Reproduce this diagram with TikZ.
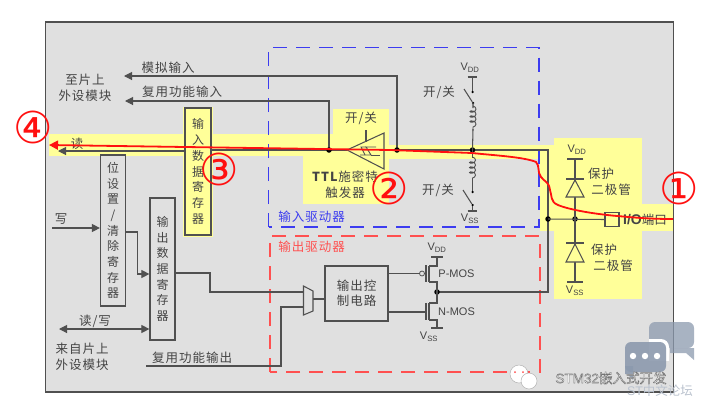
\documentclass[tikz,border=0pt]{standalone}
\usepackage{fontspec}
\setmainfont{Liberation Sans}
\newfontfamily\cjk[LetterSpace=8]{Noto Sans CJK SC}
\newfontfamily\cjkvert{Noto Sans CJK SC}
\newfontfamily\circlefont{DejaVu Sans}
\usetikzlibrary{arrows.meta,decorations.pathmorphing,calc}
\definecolor{panel}{HTML}{E0E0E0}
\definecolor{hilite}{HTML}{FFFF99}
\definecolor{ink}{HTML}{505050}
\definecolor{txt}{HTML}{444444}
\definecolor{dblue}{HTML}{3C3CF0}
\definecolor{dred}{HTML}{FF5050}
\definecolor{redmark}{HTML}{FF1010}
\definecolor{wmk}{HTML}{8C9AAE}
\tikzset{
  wire/.style={draw=ink,line width=1.05pt},
  sig/.style={wire,-{Triangle[length=8pt,width=8pt]},shorten >=0pt},
  regbox/.style={draw=ink,line width=1.2pt,inner sep=0pt,align=center,text=txt,font=\fontsize{12}{15.7}\selectfont\cjkvert},
  lab/.style={text=txt,inner sep=0pt,font=\fontsize{12.5}{16}\selectfont\cjk,align=center},
  pinlab/.style={text=txt,inner sep=0pt,font=\fontsize{11}{12}\selectfont},
  nodedot/.style={circle,fill=black,inner sep=0pt,minimum size=5.5pt},
  tinydot/.style={circle,fill=black,inner sep=0pt,minimum size=2.5pt},
  numlab/.style={text=redmark,inner sep=0pt,font=\fontsize{44}{44}\selectfont\circlefont},
  coilr/.style={draw=ink,line width=.9pt,decorate,decoration={coil,aspect=0.6,amplitude=3pt,segment length=5pt}},
  bluedash/.style={draw=dblue,line width=1.1pt,dash pattern=on 14pt off 9pt},
  reddash/.style={draw=dred,line width=1.1pt,dash pattern=on 14pt off 9pt},
}
\newcommand{\Vdd}{V\textsubscript{DD}}
\newcommand{\Vss}{V\textsubscript{SS}}
\begin{document}
\begin{tikzpicture}[x=1pt,y=-1pt]
\useasboundingbox (0,0) rectangle (703,405);
\fill[white] (0,0) rectangle (703,405);
% panel
\draw[fill=panel,draw=ink,line width=1.2pt] (45.5,22) rectangle (673.5,392);
% yellow highlights
\fill[hilite] (49,134) rectangle (333,156);
\fill[hilite] (333,109) rectangle (389,204);
\fill[hilite] (303,156) rectangle (389,204);
\fill[hilite] (389,145) rectangle (555,159);
\fill[hilite] (554,138) rectangle (642,299);
\fill[hilite] (540,159) rectangle (555,231);
\fill[hilite] (642,204) rectangle (673,231);
\fill[hilite] (183,106.5) rectangle (213,236.5);
% dashed frames
\draw[bluedash] (268.5,227) -- (268.5,47.5) -- (539,47.5) -- (539,227) -- cycle;
\draw[reddash] (270,372) -- (270,236) -- (540,236) -- (540,372) -- cycle;
\node[font=\fontsize{12.5}{16}\selectfont\cjk,text=dblue,inner sep=0pt] (indrv) at (311.5,217) {输入驱动器};
\node[font=\fontsize{12.5}{16}\selectfont\cjk,text=dred,inner sep=0pt] (outdrv) at (311.5,247) {输出驱动器};
% registers
\node[regbox,fill=hilite,minimum width=26pt,minimum height=127pt] (inreg) at (198,171.5) {输\\入\\数\\据\\寄\\存\\器};
\node[regbox,minimum width=25pt,minimum height=151pt] (setreg) at (113,230.5) {位\\设\\置\\/\\清\\除\\寄\\存\\器};
\node[regbox,minimum width=25pt,minimum height=142pt] (outreg) at (162.5,269) {输\\出\\数\\据\\寄\\存\\器};
\node[regbox,minimum width=63pt,minimum height=55pt,font=\fontsize{12.5}{15}\selectfont\cjk] (ctrl) at (356.5,293.5) {输出控\\制电路};
% labels left
\node[lab] (tochip) at (85,88) {至片上\\外设模块};
\node[lab] (fromchip) at (82,357) {来自片上\\外设模块};
\node[lab] (analog) at (168,68) {模拟输入};
\node[lab] (altin) at (182,92) {复用功能输入};
\node[lab] (rd) at (77,144) {读};
\node[lab] (wr) at (61,219) {写};
\node[lab] (rw) at (95,321) {读/写};
\node[lab] (altout) at (192,358) {复用功能输出};
% junctions
\coordinate (altnode) at (329,150);
\coordinate (ananode) at (397,150);
\coordinate (pullnode) at (472.5,150);
\coordinate (padnode) at (548,219);
\coordinate (dnode) at (575,219);
\coordinate (outnode) at (437,292);
% trigger
\coordinate (apex) at (347,150);
\coordinate (trtop) at (384,133);
\coordinate (trbot) at (384,169);
\coordinate (trright) at (384,150);
\draw[wire,line join=miter] (apex) -- (trtop) -- (trbot) -- cycle;
\draw[wire,line width=.9pt] (360,155) -- (371,155) -- (366,147) -- (376,147);
\draw[wire,line width=.9pt] (365,155) -- (361,147) -- (366,147);
\draw[wire,line width=.9pt] (371,155) -- (380,155);
\node[lab] (enlab) at (361,118) {开/关};
\coordinate (entop) at (366,130);
\draw[wire] (entop) -- (366,141.5);
\node[lab,text width=80pt] (ttl) at (345,185) {\textbf{\fontsize{12.5}{16}\selectfont TTL}施密特\\触发器};
% main wires
\draw[wire] (inreg.east |- altnode) -- (apex);
\draw[wire] (trright) -- (ananode) -- (pullnode) -- (548,150) -- (padnode) -- (548,292) -- (outnode);
\draw[sig] (inreg.west |- 0,151) -- (58,151);
\draw[sig] (ananode) -- (397,76) -- (124,76);
\draw[sig] (altnode) -- (329,101) -- (125,101);
\node[nodedot] at (altnode) {};
\node[nodedot] at (ananode) {};
\node[nodedot] at (pullnode) {};
\node[nodedot] at (padnode) {};
\node[nodedot] at (dnode) {};
\node[nodedot] at (outnode) {};
% pull-up
\node[pinlab] (vdd1) at (470,68) {\Vdd};
\draw[wire] (467.5,77) -- (477,77);
\draw[wire] (472.5,77) -- (472.5,92);
\node[tinydot] (s1a) at (472.5,92) {};
\node[tinydot] (s1b) at (473,103) {};
\draw[wire] (464,89) -- (s1b);
\draw[coilr] (473,106) -- (473,131);
\draw[wire] (473,103) -- (473,108) (473,129) -- (pullnode);
\node[lab] (on1) at (439,92) {开/关};
% pull-down
\draw[wire] (pullnode) -- (472.5,158);
\draw[coilr] (472.5,157) -- (472.5,182);
\draw[wire] (472.5,180) -- (472.5,192);
\node[tinydot] (s2a) at (472.5,192) {};
\node[tinydot] (s2b) at (472.5,205) {};
\draw[wire] (463,190) -- (s2b);
\draw[wire] (s2b) -- (472.5,210);
\draw[wire] (467.5,211) -- (477,211);
\node[pinlab] (vss1) at (470,219) {\Vss};
\node[lab] (on2) at (438,190) {开/关};
% diodes
\node[pinlab] (vdd2) at (577,150) {\Vdd};
\draw[wire] (567,159) -- (583,159);
\draw[wire] (575,159) -- (dnode);
\draw[wire,fill=hilite] (575,180) -- (566,197) -- (584,197) -- cycle;
\draw[wire] (566,179) -- (584,179);
\node[lab] (prot1) at (601,174) {保护};
\node[lab] (prot1b) at (611,190) {二极管};
\draw[wire] (dnode) -- (575,282);
\draw[wire,fill=hilite] (575,244) -- (566,262) -- (584,262) -- cycle;
\draw[wire] (566,243) -- (584,243);
\draw[wire] (567,282) -- (583,282);
\node[pinlab] (vss2) at (575,291) {\Vss};
\node[lab] (prot2) at (604,250) {保护};
\node[lab] (prot2b) at (613,266) {二极管};
% pad
\node[draw=ink,line width=1.3pt,minimum size=14pt,inner sep=0pt] (pad) at (612,219.5) {};
\draw[wire] (padnode) -- (pad.west);
\node[inner sep=0pt,text=txt,font=\fontsize{12.5}{14}\selectfont] (iolab) at (645,219.5) {\textbf{\fontsize{14}{14}\selectfont I/O}{\cjkvert 端口}};
% input side of output reg
\coordinate (wrstart) at (52,228);
\draw[sig] (wrstart) -- (setreg.west |- wrstart);
\draw[wire,-{Triangle[length=8pt,width=8pt]}] (setreg.east |- 0,232) -- (137.5,232) -- (137.5,274) -- (outreg.west |- 0,274);
\draw[wire,{Triangle[length=8pt,width=8pt]}-{Triangle[length=8pt,width=8pt]}] (59,329) -- (outreg.west |- 0,329);
% mux
\coordinate (muxA) at (303.5,286);
\coordinate (muxB) at (313,291);
\coordinate (muxC) at (313,311);
\coordinate (muxD) at (303.5,315);
\draw[wire] (muxA) -- (muxB) -- (muxC) -- (muxD) -- cycle;
\draw[wire] (outreg.east |- 0,273) -- (210,273) -- (210,292) -- (303.5,292);
\coordinate (altoutstart) at (146,366);
\draw[wire] (altoutstart) -- (281,366) -- (281,307) -- (303.5,307);
\draw[wire] (313,299) -- (ctrl.west |- 0,299);
% MOS
\node[circle,draw=ink,line width=.8pt,inner sep=0pt,minimum size=5pt] (bub) at (422,273.5) {};
\draw[wire] (ctrl.east |- bub) -- (bub);
\draw[wire,line width=1.6pt] (426,265) -- (426,282);
\draw[wire] (429,266) -- (429,282);
\draw[wire] (429,266) -- (437,266) -- (437,257);
\draw[wire] (431,257) -- (443,257);
\draw[wire] (429,282) -- (437,282) -- (outnode);
\node[pinlab] (vdd3) at (437,248) {\Vdd};
\node[pinlab] (pm) at (456.5,273.5) {P-MOS};
\draw[wire] (ctrl.east |- 0,312) -- (426,312);
\draw[wire,line width=1.6pt] (426,303) -- (426,320);
\draw[wire] (429,303) -- (429,320);
\draw[wire] (outnode) -- (437,303) -- (429,303);
\draw[wire] (429,320) -- (437,320) -- (437,328);
\draw[wire] (431,328) -- (443,328);
\node[pinlab] (vss3) at (429,337) {\Vss};
\node[pinlab] (nm) at (456.5,312) {N-MOS};
% red path
\draw[redmark,line width=1.8pt,-{Triangle[length=9pt,width=9pt]}]
  (673,219) .. controls (645,219) and (630,217) .. (617,216)
  .. controls (595,214) and (570,210) .. (558,205)
  .. controls (550,202) and (552,195) .. (550,190)
  .. controls (549,182) and (545,182) .. (541,177)
  .. controls (537,172) and (540,166) .. (536,162)
  .. controls (525,157) and (490,155) .. (472,153)
  -- (390,150) -- (49,145);
% numbers
\node[numlab] (n1) at (679,188) {①};
\node[numlab] (n2) at (389,188) {②};
\node[numlab] (n3) at (219,169) {③};
\node[numlab] (n4) at (33,127) {④};
% watermark
\fill[wmk,opacity=.75,rounded corners=6pt] (649,322) rectangle (694,348);
\fill[wmk,opacity=.75] (670,348) -- (694,348) -- (694,360) -- (686,353) -- (670,353) -- cycle;
\begin{scope}
\clip (649,322) rectangle (694,360);
\fill[white,rounded corners=8pt] (622,339) rectangle (669,372);
\end{scope}
\fill[wmk,opacity=.9,rounded corners=6pt] (625,342) rectangle (666,372);
\fill[wmk,opacity=.9] (625,366) -- (633,366) -- (633,380) -- (627,374) -- (625,374) -- cycle;
\fill[white] (633,356) circle (3.2pt) (645,356) circle (3.2pt) (657,356) circle (3.2pt);
\fill[white,draw=gray!60,line width=.5pt] (519,374) circle (9pt);
\fill[white,draw=gray!60,line width=.5pt] (529,381) circle (8pt);
\fill[red!70] (515,372) circle (1pt) (523,372) circle (1pt);
\node[inner sep=0pt,text=white,font=\fontsize{13.5}{16}\selectfont] (wm1) at (611,378) {\special{pdf:code 2 Tr 0.45 G 0.45 w}STM32{\cjkvert 嵌入式开发}};
\node[inner sep=0pt,text=wmk!60,font=\fontsize{12.5}{16}\selectfont] (wm2) at (660,391) {ST{\cjkvert 中文论坛}};
\end{tikzpicture}
\end{document}
